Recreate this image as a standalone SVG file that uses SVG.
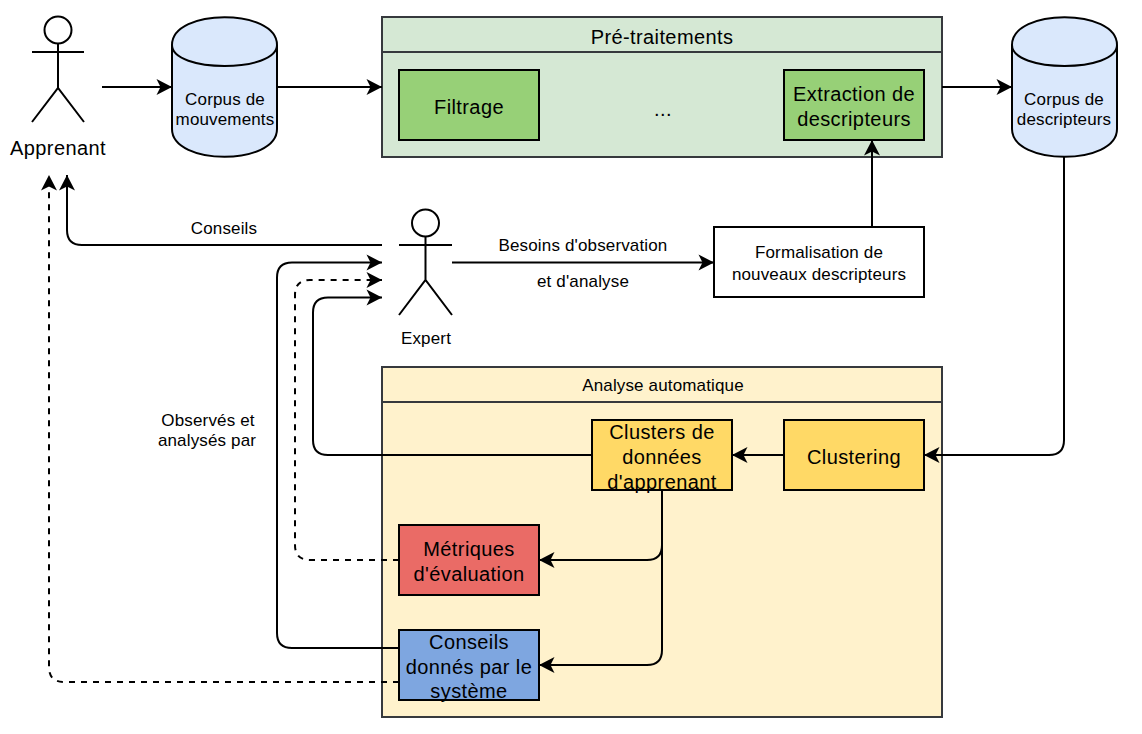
<svg xmlns="http://www.w3.org/2000/svg" width="1142" height="734" viewBox="0 0 1142 734">
<style>
text{font-family:"Liberation Sans",Arial,sans-serif;fill:#000;text-anchor:middle}
.t18{font-size:20px;letter-spacing:.4px}.t16{font-size:17px;letter-spacing:.15px}
.box{stroke:#000;stroke-width:2}
.lane{stroke:#36393d;stroke-width:2}
.cyl{fill:#dae8fc;stroke:#000;stroke-width:2}
.act{fill:none;stroke:#000;stroke-width:2}
.c{fill:none;stroke:#000;stroke-width:2;marker-end:url(#a)}
.d{stroke-dasharray:6 6}
</style>
<defs>
<marker id="a" markerUnits="userSpaceOnUse" markerWidth="16" markerHeight="16" refX="15.500" refY="8" orient="auto" overflow="visible">
<path d="M0,0 L15.500,8 L0,16 L4,8 Z" fill="#000"/>
</marker>
</defs>
<rect width="1142" height="734" fill="#fff"/>
<g id="apprenant">
<path class="act" d="M58,43.5V88M32,52H84M32,122L58,88L84,122"/><circle class="act" cx="58" cy="30" r="13.5" fill="#fff"/>
<text class="t18" x="58" y="155">Apprenant</text>
</g>
<g id="corpus-mouvements">
<path class="cyl" d="M172,45C172,8 277,8 277,45V129C277,166 172,166 172,129Z"/><path class="act" d="M172,45C172,73 277,73 277,45"/>
<text class="t16" x="225" y="105">Corpus de</text><text class="t16" x="225" y="125">mouvements</text>
</g>
<g id="pretraitements">
<rect class="lane" x="382" y="17" width="560" height="140" fill="#d5e8d4"/><path class="lane" d="M382,52H942"/>
<text class="t18" x="662" y="44">Pré-traitements</text>
<text class="t18" x="663" y="116">...</text>
</g>
<g id="filtrage"><rect class="box" x="399" y="70" width="140" height="70" fill="#97d077"/><text class="t18" x="469" y="114">Filtrage</text></g>
<g id="extraction"><rect class="box" x="784" y="70" width="140" height="70" fill="#97d077"/><text class="t18" x="854" y="101">Extraction de</text><text class="t18" x="854" y="126">descripteurs</text></g>
<g id="corpus-descripteurs">
<path class="cyl" d="M1012,45C1012,8 1117,8 1117,45V129C1117,166 1012,166 1012,129Z"/><path class="act" d="M1012,45C1012,73 1117,73 1117,45"/>
<text class="t16" x="1064" y="105">Corpus de</text><text class="t16" x="1064" y="125">descripteurs</text>
</g>
<g id="expert">
<path class="act" d="M425.5,236.500V280M399,245H452M399,315L425.500,280L452,315"/><circle class="act" cx="425.500" cy="223" r="13.500"/>
<text class="t16" x="426" y="344">Expert</text>
</g>
<g id="formalisation"><rect class="box" x="714" y="227" width="210" height="70" fill="#fff"/><text class="t16" x="819" y="258">Formalisation de</text><text class="t16" x="819" y="280">nouveaux descripteurs</text></g>
<g id="analyse">
<rect class="lane" x="382" y="367" width="560" height="350" fill="#fff2cc"/><path class="lane" d="M382,402H942"/>
<text class="t16" x="663" y="391">Analyse automatique</text>
</g>
<g id="clusters"><rect class="box" x="592" y="420" width="140" height="70" fill="#ffd966"/><text class="t18" x="662" y="439">Clusters de</text><text class="t18" x="662" y="464">données</text><text class="t18" x="662" y="489">d'apprenant</text></g>
<g id="clustering"><rect class="box" x="784" y="420" width="140" height="70" fill="#ffd966"/><text class="t18" x="854" y="464">Clustering</text></g>
<g id="metriques"><rect class="box" x="399" y="525" width="140" height="70" fill="#ea6b66"/><text class="t18" x="469" y="556">Métriques</text><text class="t18" x="469" y="581">d'évaluation</text></g>
<g id="conseils-systeme"><rect class="box" x="399" y="630" width="140" height="70" fill="#7ea6e0"/><text class="t18" x="469" y="649">Conseils</text><text class="t18" x="469" y="674">donnés par le</text><text class="t18" x="469" y="698">système</text></g>
<g id="connectors">
<path class="c" d="M102,87H172"/>
<path class="c" d="M277,87H382"/>
<path class="c" d="M942,87H1012"/>
<path class="c" d="M872,227V140"/>
<path class="c" d="M452,262.500H714"/>
<path class="c" d="M382,245H82Q67,245 67,230V175"/>
<path class="c" d="M399,648H292Q277,648 277,633V277.500Q277,262.500 292,262.500H382"/>
<path class="c d" d="M399,560H310Q295,560 295,545V295Q295,280 310,280H382"/>
<path class="c" d="M592,455H328Q313,455 313,440V312.500Q313,297.500 328,297.500H382"/>
<path class="c d" d="M399,682H64Q49,682 49,667V175"/>
<path class="c" d="M1064,157V440Q1064,455 1049,455H924"/>
<path class="c" d="M784,455H732"/>
<path class="c" d="M662,490V545Q662,560 647,560H539"/>
<path class="c" d="M662,490V650Q662,665 647,665H539"/>
</g>
<g id="labels">
<text class="t16" x="224" y="234">Conseils</text>
<text class="t16" x="583" y="251">Besoins d'observation</text>
<text class="t16" x="583" y="287">et d'analyse</text>
<text class="t16" x="208" y="426">Observés et</text>
<text class="t16" x="207" y="446">analysés par</text>
</g>
</svg>
